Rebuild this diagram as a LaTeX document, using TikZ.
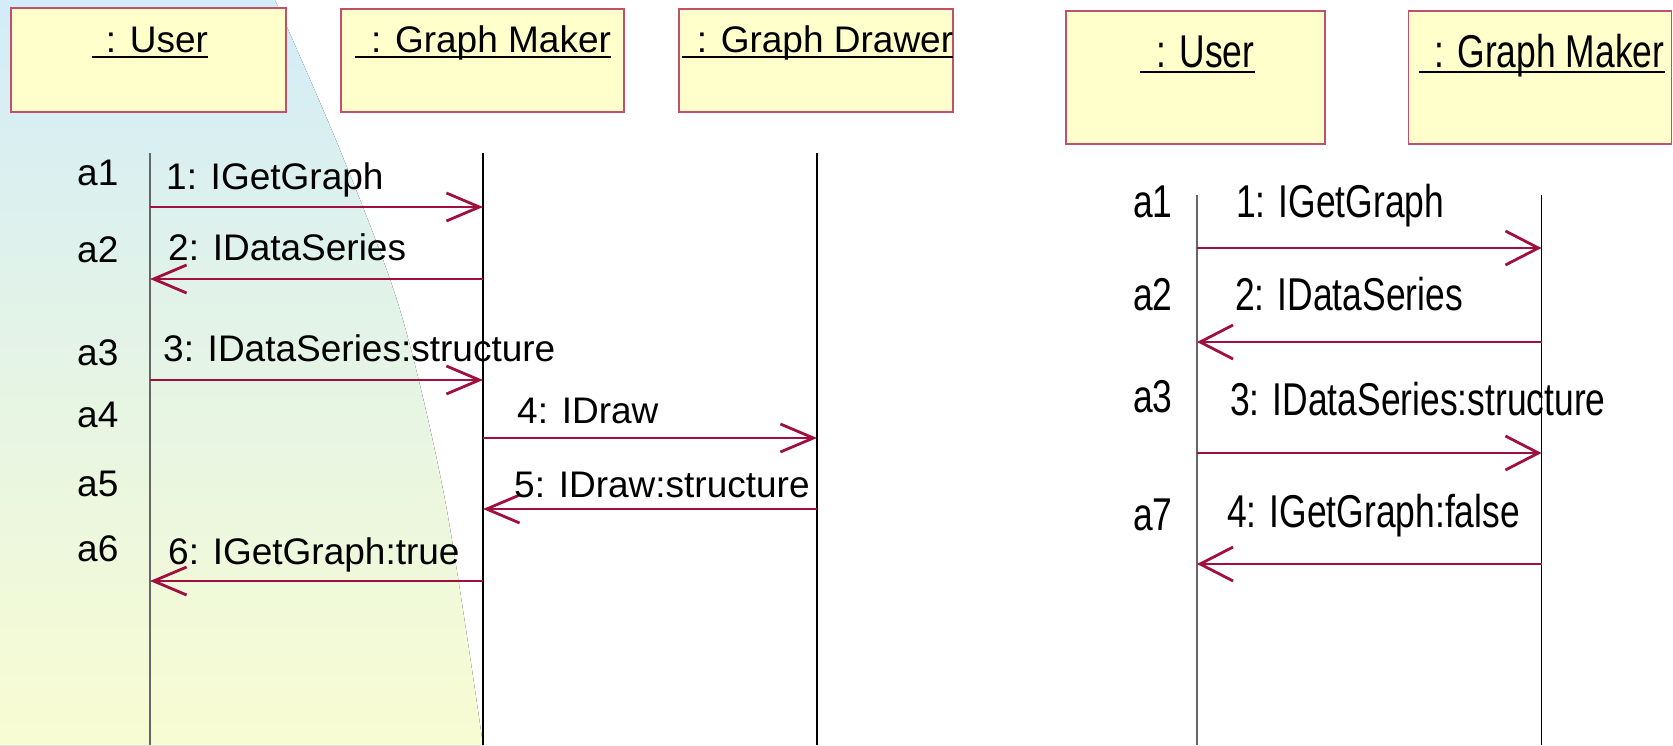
\documentclass[tikz,border=0pt]{standalone}
\usepackage{fontspec}
\setmainfont{Liberation Sans}
\newfontfamily\narrowfont[FakeStretch=0.77]{Liberation Sans}
\usetikzlibrary{arrows.meta}
\definecolor{boxfill}{HTML}{FFFFCC}
\definecolor{boxline}{HTML}{C0506E}
\definecolor{msgcol}{HTML}{A0103F}
\definecolor{bgtop}{HTML}{D2ECF8}
\definecolor{bgmid}{HTML}{E5F5E7}
\definecolor{bgbot}{HTML}{F8FCD2}
\begin{document}
\begin{tikzpicture}[x=1pt,y=-1pt,
  objbox/.style={draw=boxline, fill=boxfill, line width=1.8pt, inner sep=0pt},
  lefttxt/.style={font=\fontsize{37}{40}\selectfont, inner sep=0pt, anchor=base west},
  righttxt/.style={font=\narrowfont\fontsize{46}{50}\selectfont, inner sep=0pt, anchor=base west},
  lefttitle/.style={font=\fontsize{37}{40}\selectfont, inner sep=0pt, anchor=base},
  righttitle/.style={font=\narrowfont\fontsize{46}{50}\selectfont, inner sep=0pt, anchor=base},
  uline/.style={line width=2pt},
  msg/.style={draw=msgcol, line width=1.3pt, -{Straight Barb[length=33pt,width=28pt,line width=2.8pt]}},
  msgR/.style={draw=msgcol, line width=1.3pt, -{Straight Barb[length=33pt,width=34pt,line width=2.8pt]}},
  lifeU/.style={line width=1.4pt, draw=black!60},
  lifeO/.style={line width=1.3pt, draw=black}
]
\useasboundingbox (0,0) rectangle (1673,745);
% background gradient
\fill[top color=bgtop, middle color=bgmid, bottom color=bgbot]
  (0,0) -- plot[smooth] coordinates {(275,0) (340,150) (400,310) (445,500) (483,745)} -- (0,745) -- cycle;

% ----- left diagram -----
\node[objbox, minimum width=275pt, minimum height=104pt] (boxUA) at (148.5,60) {};
\node[objbox, minimum width=283pt, minimum height=103pt] (boxGMA) at (482.5,60.5) {};
\node[objbox, minimum width=274pt, minimum height=103pt] (boxGDA) at (816,60.5) {};

\node[lefttitle] (tUA) at (150,52) {\hspace{14pt}: User};
\node[lefttitle] (tGMA) at (483,52) {\hspace{16pt}: Graph Maker};
\node[lefttitle] (tGDA) at (817.5,52) {\hspace{15pt}: Graph Drawer};
\draw[uline] ([yshift=-5pt]tUA.base west) -- ([yshift=-5pt]tUA.base east);
\draw[uline] ([yshift=-5pt]tGMA.base west) -- ([yshift=-5pt]tGMA.base east);
\draw[uline] ([yshift=-5pt]tGDA.base west) -- ([yshift=-5pt]tGDA.base east);

\coordinate (uAT) at (150,153);  \coordinate (uAB) at (150,745);
\coordinate (gAT) at (483,153);  \coordinate (gAB) at (483,745);
\coordinate (dAT) at (817,153);  \coordinate (dAB) at (817,745);
\draw[lifeU] (uAT) -- (uAB);
\draw[lifeO] (gAT) -- (gAB);
\draw[lifeO] (dAT) -- (dAB);

\draw[msg] (uAT |- 0,207) -- (gAT |- 0,207);
\draw[msg] (gAT |- 0,279) -- (uAT |- 0,279);
\draw[msg] (uAT |- 0,380) -- (gAT |- 0,380);
\draw[msg] (gAT |- 0,438) -- (dAT |- 0,438);
\draw[msg] (dAT |- 0,509) -- (gAT |- 0,509);
\draw[msg] (gAT |- 0,581) -- (uAT |- 0,581);

\node[lefttxt] (la1) at (77,185) {a1};
\node[lefttxt] (la2) at (77,262) {a2};
\node[lefttxt] (la3) at (77,365) {a3};
\node[lefttxt] (la4) at (77,427) {a4};
\node[lefttxt] (la5) at (77,496) {a5};
\node[lefttxt] (la6) at (77,561) {a6};

\node[lefttxt] (lm1) at (166,189) {1: IGetGraph};
\node[lefttxt] (lm2) at (168,260) {2: IDataSeries};
\node[lefttxt] (lm3) at (163,361) {3: IDataSeries:structure};
\node[lefttxt] (lm4) at (517,423) {4: IDraw};
\node[lefttxt] (lm5) at (514,497) {5: IDraw:structure};
\node[lefttxt] (lm6) at (168,564) {6: IGetGraph:true};

% ----- right diagram -----
\node[objbox, minimum width=259pt, minimum height=133pt] (boxUB) at (1195.5,77.5) {};
\node[objbox, minimum width=263pt, minimum height=133pt] (boxGMB) at (1540,77.5) {};

\node[righttitle] (tUB) at (1197.5,67) {\hspace{16pt}: User};
\node[righttitle] (tGMB) at (1542,67) {\hspace{15pt}: Graph Maker};
\draw[uline] ([yshift=-5pt]tUB.base west) -- ([yshift=-5pt]tUB.base east);
\draw[uline] ([yshift=-5pt]tGMB.base west) -- ([yshift=-5pt]tGMB.base east);

\coordinate (uBT) at (1197,195);  \coordinate (uBB) at (1197,745);
\coordinate (gBT) at (1541.5,195); \coordinate (gBB) at (1541.5,745);
\draw[lifeU] (uBT) -- (uBB);
\draw[lifeO] (gBT) -- (gBB);

\draw[msgR] (uBT |- 0,248) -- (gBT |- 0,248);
\draw[msgR] (gBT |- 0,342) -- (uBT |- 0,342);
\draw[msgR] (uBT |- 0,453) -- (gBT |- 0,453);
\draw[msgR] (gBT |- 0,564) -- (uBT |- 0,564);

\node[righttxt] (ra1) at (1133,217) {a1};
\node[righttxt] (ra2) at (1133,310) {a2};
\node[righttxt] (ra3) at (1133,412) {a3};
\node[righttxt] (ra7) at (1133,530) {a7};

\node[righttxt] (rm1) at (1236,217) {1: IGetGraph};
\node[righttxt] (rm2) at (1235,310) {2: IDataSeries};
\node[righttxt] (rm3) at (1230,415) {3: IDataSeries:structure};
\node[righttxt] (rm4) at (1227,527) {4: IGetGraph:false};
\end{tikzpicture}
\end{document}
